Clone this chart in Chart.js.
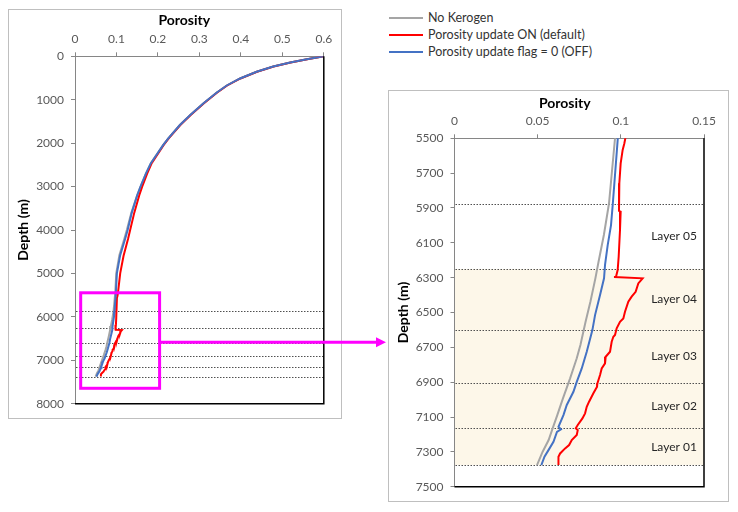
<!DOCTYPE html>
<html>
<head>
<meta charset="utf-8">
<script src="https://cdn.jsdelivr.net/npm/chart.js@4.4.1/dist/chart.umd.min.js"></script>
<style>
  html, body { margin:0; padding:0; background:#fff; width:738px; height:512px; overflow:hidden; font-family:Lato, sans-serif; }
  .frame { position:absolute; border:1px solid #bfbfbf; background:#fff; }
  #f1 { left:8px; top:9px; width:332px; height:408px; }
  #f2 { left:388px; top:90px; width:339px; height:410px; }
  canvas { display:block; }
  #legend { position:absolute; left:389px; top:9px; }
  .row { display:flex; align-items:center; height:17px; font-size:12.5px; color:#333; white-space:nowrap; }
  .sw { width:34px; height:2px; margin-right:5px; }
  #overlay { position:absolute; left:0; top:0; pointer-events:none; }
</style>
</head>
<body>
<div class="frame" id="f1"><canvas id="c1" width="332" height="408"></canvas></div>
<div class="frame" id="f2"><canvas id="c2" width="339" height="410"></canvas></div>
<div id="legend"></div>
<canvas id="overlay" width="738" height="512"></canvas>
<script>
// ================= DATA =================
const seriesNames = ['No Kerogen', 'Porosity update ON (default)', 'Porosity update flag = 0 (OFF)'];
const seriesColors = ['#A5A5A5', '#FF0000', '#4472C4'];

const depthGray = [0, 69, 143, 235, 355, 511, 672, 834, 1082, 1352, 1582, 1888, 2040, 2460, 2700, 3000, 3200, 3600, 4000, 4200, 4580, 5000, 5460,
  5500, 5873, 6055, 6209, 6304, 6438, 6553, 6687, 6763, 6878, 6993, 7089, 7165, 7232, 7299, 7376];
const porosityGray = [0.600, 0.559, 0.519, 0.478, 0.438, 0.398, 0.366, 0.342, 0.310, 0.278, 0.253, 0.225, 0.213, 0.183, 0.171, 0.158, 0.150, 0.136, 0.125, 0.119, 0.107, 0.0995, 0.0970,
  0.0965, 0.0929, 0.0898, 0.0866, 0.0847, 0.0817, 0.0788, 0.0757, 0.0735, 0.0695, 0.0652, 0.0618, 0.0590, 0.0566, 0.0530, 0.0496];

const depthRed = [0, 69, 143, 235, 355, 511, 672, 834, 1082, 1352, 1582, 1888, 2040, 2460, 2700, 3000, 3200, 3600, 4000, 4200, 4600, 5000, 5460,
  5530, 5567, 5644, 5758, 5917, 5921, 6026, 6180, 6256, 6295, 6296, 6304, 6333, 6381, 6409, 6438, 6496, 6534, 6553, 6591, 6629, 6639, 6668,
  6725, 6754, 6792, 6821, 6859, 6907, 6926, 6964, 7012, 7041, 7079, 7108, 7146, 7165, 7175, 7203, 7232, 7261, 7280, 7309, 7328, 7376];
const porosityRed = [0.600, 0.560, 0.520, 0.479, 0.439, 0.399, 0.367, 0.343, 0.311, 0.279, 0.254, 0.226, 0.214, 0.185, 0.174, 0.162, 0.155, 0.143, 0.133, 0.128, 0.117, 0.109, 0.1035,
  0.1021, 0.1011, 0.0999, 0.0991, 0.0989, 0.0999, 0.0995, 0.0987, 0.0981, 0.0971, 0.0959, 0.1131, 0.1105, 0.1089, 0.1065, 0.1045, 0.1025, 0.1015, 0.0995, 0.0975, 0.0965, 0.0955, 0.0945,
  0.0935, 0.0909, 0.0905, 0.0885, 0.0875, 0.0859, 0.0857, 0.0835, 0.0809, 0.0795, 0.0785, 0.0769, 0.0741, 0.0729, 0.0741, 0.0735, 0.0705, 0.0689, 0.0665, 0.0635, 0.0625, 0.0625];

const depthBlue = [0, 69, 143, 235, 355, 511, 672, 834, 1082, 1352, 1582, 1888, 2040, 2460, 2700, 3000, 3200, 3600, 4000, 4200, 4580, 5000, 5460,
  5873, 5998, 6113, 6227, 6304, 6400, 6515, 6601, 6725, 6821, 6898, 6955, 7031, 7089, 7156, 7171, 7185, 7242, 7290, 7328, 7376];
const porosityBlue = [0.600, 0.559, 0.519, 0.478, 0.438, 0.398, 0.366, 0.342, 0.310, 0.278, 0.253, 0.225, 0.213, 0.183, 0.171, 0.158, 0.150, 0.137, 0.127, 0.121, 0.109, 0.101, 0.0985,
  0.0952, 0.0941, 0.0921, 0.0905, 0.0899, 0.0875, 0.0845, 0.0829, 0.0795, 0.0765, 0.0735, 0.0715, 0.0675, 0.0655, 0.0625, 0.0640, 0.0616, 0.0595, 0.0565, 0.0541, 0.0522];

const layerBounds = [5875, 6250, 6600, 6905, 7165, 7375];
const layerNames = ['Layer 05', 'Layer 04', 'Layer 03', 'Layer 02', 'Layer 01'];
const shadedRange = [6250, 7375];
const layerLabelPorosity = 0.132;

const leftXTicks = [0, 0.1, 0.2, 0.3, 0.4, 0.5, 0.6];
const leftYTicks = [0, 1000, 2000, 3000, 4000, 5000, 6000, 7000, 8000];
const rightXTicks = [0, 0.05, 0.1, 0.15];
const rightYTicks = [5500, 5700, 5900, 6100, 6300, 6500, 6700, 6900, 7100, 7300, 7500];

const zoomBoxPorosity = [0.0137, 0.204];
const zoomBoxDepth = [5446, 7645];
const arrowDepth = 6584;

// ================= BUILD =================
const FONT = 'Lato';

function makeDatasets() {
  const sets = [[depthGray, porosityGray], [depthRed, porosityRed], [depthBlue, porosityBlue]];
  return sets.map((s, k) => ({
    label: seriesNames[k],
    data: s[0].map((d, i) => ({ x: s[1][i], y: d })),
    borderColor: seriesColors[k],
    backgroundColor: seriesColors[k],
    borderWidth: 2,
    pointRadius: 0,
    showLine: true,
    fill: false,
    tension: 0,
    order: 3 - k
  }));
}

function makeScales(xT, yT, yWidth, xHeight, yTitlePad) {
  const axisGrid = { drawOnChartArea: false, drawTicks: true, tickLength: 4, color: '#868686' };
  const tickFont = { family: FONT, size: 12 };
  return {
    x: {
      type: 'linear', position: 'top', min: xT[0], max: xT[xT.length - 1],
      afterBuildTicks: s => { s.ticks = xT.map(v => ({ value: v })); },
      afterFit: s => { s.height = xHeight; },
      ticks: { callback: v => String(v), color: '#595959', font: tickFont, padding: 6, maxRotation: 0, autoSkip: false },
      grid: axisGrid,
      border: { display: true, color: '#868686', width: 1 }
    },
    y: {
      type: 'linear', position: 'left', reverse: true, min: yT[0], max: yT[yT.length - 1],
      afterBuildTicks: s => { s.ticks = yT.map(v => ({ value: v })); },
      afterFit: s => { s.width = yWidth; },
      title: { display: true, text: 'Depth (m)', color: '#000', font: { family: FONT, size: 14, weight: 'bold' }, padding: { top: yTitlePad, bottom: 0 } },
      ticks: { callback: v => String(v), color: '#595959', font: tickFont, padding: 7, autoSkip: false },
      grid: axisGrid,
      border: { display: true, color: '#868686', width: 1 }
    }
  };
}

const decor = {
  id: 'decor',
  afterLayout(chart, args, opts) {
    // Excel places the axis title a little left of the plot centre
    const tb = chart.titleBlock;
    if (!tb) return;
    const ca = chart.chartArea;
    const want = (ca.left + ca.right) / 2 + opts.titleShift;
    const d = want - (tb.left + tb.right) / 2;
    tb.left += d; tb.right += d;
  },
  beforeDraw(chart, args, opts) {
    if (!opts.shade) return;
    const { ctx, chartArea: a, scales: { y } } = chart;
    const y1 = y.getPixelForValue(shadedRange[0]);
    const y2 = y.getPixelForValue(shadedRange[1]);
    ctx.save();
    ctx.fillStyle = '#FDF7E9';
    ctx.fillRect(a.left, y1, a.right - a.left, y2 - y1);
    ctx.restore();
  },
  beforeDatasetsDraw(chart, args, opts) {
    const { ctx, chartArea: a, scales: { x, y } } = chart;
    ctx.save();
    ctx.strokeStyle = '#505050';
    ctx.lineWidth = 1;
    ctx.setLineDash([1.5, 1.5]);
    layerBounds.forEach(d => {
      const py = Math.round(y.getPixelForValue(d)) + 0.5;
      ctx.beginPath(); ctx.moveTo(a.left + 1, py); ctx.lineTo(a.right, py); ctx.stroke();
    });
    ctx.setLineDash([]);
    if (opts.labels) {
      ctx.fillStyle = '#262626';
      ctx.font = '12px ' + FONT;
      ctx.textAlign = 'center';
      ctx.textBaseline = 'middle';
      layerNames.forEach((name, i) => {
        const mid = (layerBounds[i] + layerBounds[i + 1]) / 2;
        ctx.fillText(name, x.getPixelForValue(layerLabelPorosity), y.getPixelForValue(mid));
      });
    }
    ctx.restore();
  },
  afterDatasetsDraw(chart, args, opts) {
    const { ctx, chartArea: a, scales: { x, y } } = chart;
    ctx.save();
    ctx.strokeStyle = '#000';
    ctx.lineWidth = 1.5;
    ctx.beginPath();
    ctx.moveTo(a.left, a.bottom); ctx.lineTo(a.right, a.bottom); ctx.lineTo(a.right, a.top);
    ctx.stroke();
    if (opts.box) {
      const x1 = x.getPixelForValue(zoomBoxPorosity[0]), x2 = x.getPixelForValue(zoomBoxPorosity[1]);
      const y1 = y.getPixelForValue(zoomBoxDepth[0]), y2 = y.getPixelForValue(zoomBoxDepth[1]);
      ctx.strokeStyle = '#FF00FF';
      ctx.lineWidth = 3;
      ctx.strokeRect(x1, y1, x2 - x1, y2 - y1);
    }
    ctx.restore();
  }
};

function makeChart(id, xT, yT, lay) {
  return new Chart(document.getElementById(id), {
    type: 'scatter',
    data: { datasets: makeDatasets() },
    plugins: [decor],
    options: {
      responsive: false,
      devicePixelRatio: 1,
      animation: false,
      events: [],
      layout: { padding: { left: 0, right: lay.R, top: 0, bottom: lay.B } },
      scales: makeScales(xT, yT, lay.yWidth, lay.xHeight, lay.yTitlePad),
      plugins: {
        legend: { display: false },
        tooltip: { enabled: false },
        title: { display: true, text: 'Porosity', color: '#000', font: { family: FONT, size: 14, weight: 'bold' }, padding: { top: lay.titlePad, bottom: 0 } },
        decor: { shade: lay.shade, labels: lay.labels, box: lay.box, titleShift: lay.titleShift }
      }
    }
  });
}

const chartLeft = makeChart('c1', leftXTicks, leftYTicks,
  { R: 17.2, B: 14.3, yWidth: 66, xHeight: 27.9, yTitlePad: 6.1, titlePad: 1.6, titleShift: -15.1, shade: false, labels: false, box: true });
const chartRight = makeChart('c2', rightXTicks, rightYTicks,
  { R: 24, B: 14.3, yWidth: 65.5, xHeight: 26.4, yTitlePad: 5.6, titlePad: 4.1, titleShift: -14.5, shade: true, labels: true, box: false });

// legend
const legend = document.getElementById('legend');
seriesNames.forEach((name, i) => {
  const row = document.createElement('div');
  row.className = 'row';
  const sw = document.createElement('span');
  sw.className = 'sw';
  sw.style.background = seriesColors[i];
  const tx = document.createElement('span');
  tx.textContent = name;
  row.appendChild(sw); row.appendChild(tx);
  legend.appendChild(row);
});

// arrow from zoom box to the detail chart
(function drawArrow() {
  const c1 = document.getElementById('c1');
  const f2 = document.getElementById('f2');
  const r1 = c1.getBoundingClientRect();
  const sx = r1.left + chartLeft.scales.x.getPixelForValue(zoomBoxPorosity[1]);
  const sy = r1.top + chartLeft.scales.y.getPixelForValue(arrowDepth);
  const tip = f2.getBoundingClientRect().left - 2;
  const ctx = document.getElementById('overlay').getContext('2d');
  ctx.strokeStyle = '#FF00FF';
  ctx.fillStyle = '#FF00FF';
  ctx.lineWidth = 3;
  ctx.beginPath(); ctx.moveTo(sx, sy); ctx.lineTo(tip - 8, sy); ctx.stroke();
  ctx.beginPath(); ctx.moveTo(tip - 10, sy - 5); ctx.lineTo(tip, sy); ctx.lineTo(tip - 10, sy + 5); ctx.closePath(); ctx.fill();
})();
</script>
</body>
</html>
